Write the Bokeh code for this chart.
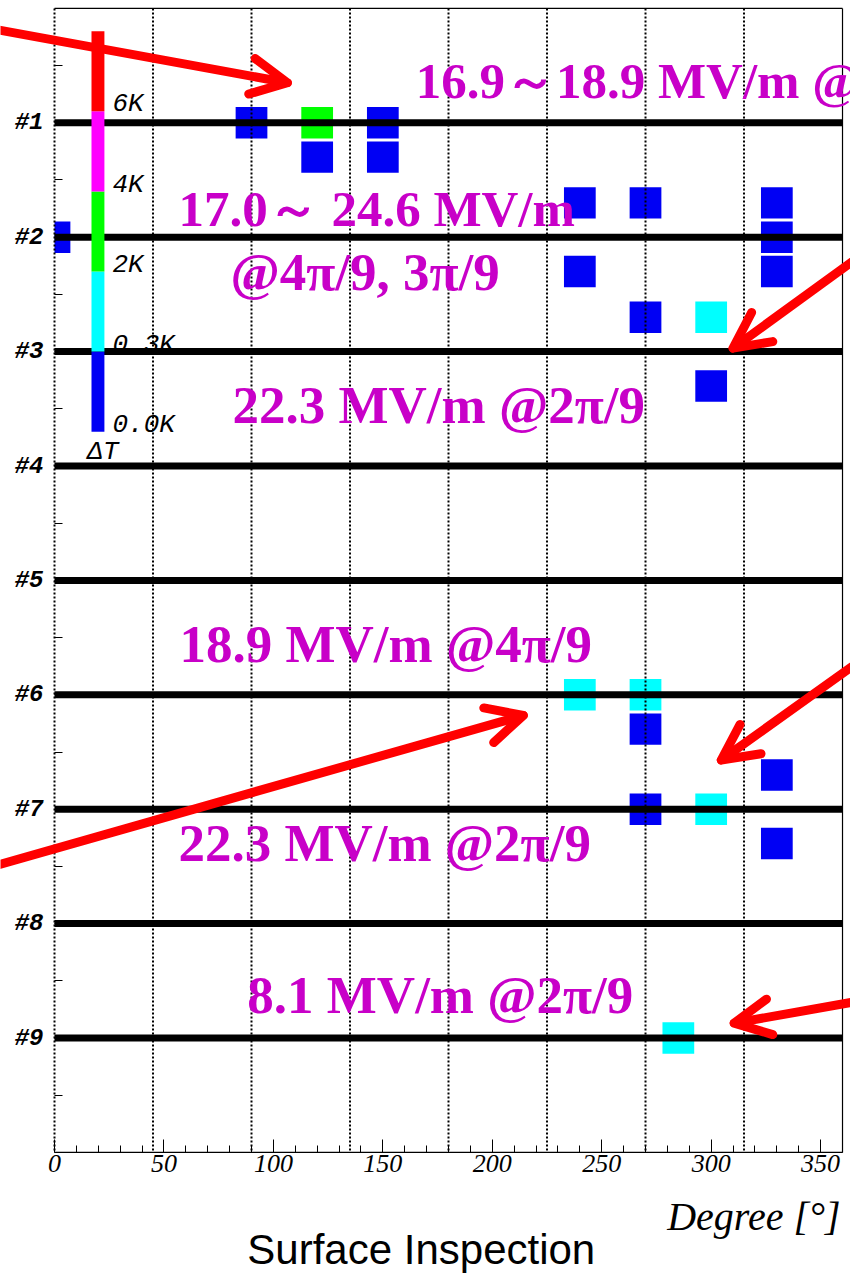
from bokeh.plotting import figure
from bokeh.models import Range1d, FixedTicker, ColumnDataSource, Label, Arrow, OpenHead
from bokeh.core.properties import value
from bokeh.embed import file_html
from bokeh.resources import INLINE

# ---------------- data ----------------
cells = [1, 2, 3, 4, 5, 6, 7, 8, 9]
cell_labels = ["#1", "#2", "#3", "#4", "#5", "#6", "#7", "#8", "#9"]
cell_minor = [0.5, 1.5, 2.5, 3.5, 4.5, 5.5, 6.5, 7.5, 8.5, 9.5]

deg_ticks = [0, 50, 100, 150, 200, 250, 300, 350]
deg_minor = list(range(0, 361, 10))
grid_deg = [0, 45, 90, 135, 180, 225, 270, 315]

# heated spots: angle [deg], position along cell axis, temperature rise [K]
spot_deg = [0, 90, 120, 120, 150, 150, 240, 240, 270, 270, 300, 300, 330, 330, 330,
            240, 270, 270, 330, 270, 300, 330, 285]
spot_pos = [2.0, 1.0, 1.0, 1.3, 1.0, 1.3, 1.7, 2.3, 1.7, 2.7, 2.7, 3.3, 1.7, 2.0, 2.3,
            6.0, 6.0, 6.3, 6.7, 7.0, 7.0, 7.3, 9.0]
spot_dT = [0.1, 0.1, 3.0, 0.1, 0.1, 0.1, 0.1, 0.1, 0.1, 0.1, 1.0, 0.1, 0.1, 0.1, 0.1,
           1.0, 1.0, 0.1, 0.1, 0.1, 1.0, 0.1, 1.0]

cbar_levels = [0.0, 0.3, 2.0, 4.0, 6.0]
cbar_labels = ["0.0K", "0.3K", "2K", "4K", "6K"]
cbar_colors = ["#0000f4", "#00ffff", "#00ff00", "#ff00ff", "#ff0000"]

note_text = ["16.9～18.9 MV/m @4π/9", "17.0～ 24.6 MV/m", "@4π/9, 3π/9",
             "22.3 MV/m @2π/9", "18.9 MV/m @4π/9", "22.3 MV/m @2π/9", "8.1 MV/m @2π/9"]
note_x = [165.0, 56.6, 80.4, 81.3, 57.1, 56.6, 88.1]
note_y = [0.635, 1.753, 2.300, 3.467, 5.560, 7.295, 8.620]
note_size = ["51px", "51px", "53px", "53px", "53px", "53px", "53px"]

arrow_x0 = [-33.8, 372.6, -33.8, 372.6, 372.6]
arrow_y0 = [0.16, 2.10, 7.53, 5.64, 8.66]
arrow_x1 = [106.4, 310.0, 214.2, 304.6, 310.5]
arrow_y1 = [0.65, 2.97, 6.18, 6.57, 8.87]


def color_of(t):
    c = cbar_colors[0]
    for lev, col in zip(cbar_levels, cbar_colors):
        if t >= lev:
            c = col
    return c


X_MIN, X_MAX = 0, 360
SPOT_W, SPOT_H = 14.5, 0.275

# ---------------- figure ----------------
# the frame fills the whole canvas; the axes sit at fixed data locations
p = figure(width=850, height=1278, x_range=Range1d(-24.67, 363.65), y_range=Range1d(11.102, -0.069),
           output_backend="svg", toolbar_location=None,
           min_border_left=0, min_border_right=0, min_border_top=0, min_border_bottom=0)
p.outline_line_color = None
p.grid.visible = False
p.background_fill_color = "white"
p.border_fill_color = "white"

# spots (clipped to the 0-360 degree window)
src = ColumnDataSource(dict(
    l=[max(X_MIN, d - SPOT_W / 2) for d in spot_deg],
    r=[min(X_MAX, d + SPOT_W / 2) for d in spot_deg],
    b=[y + SPOT_H / 2 for y in spot_pos],
    t=[y - SPOT_H / 2 for y in spot_pos],
    c=[color_of(t) for t in spot_dT]))
p.quad(left="l", right="r", bottom="b", top="t", fill_color="c", line_color=None, source=src)

# dotted angular grid
p.segment(x0=grid_deg, y0=[0] * len(grid_deg), x1=grid_deg, y1=[10] * len(grid_deg),
          line_color="black", line_width=2, line_dash="2 2")

# frame lines (top, right, bottom)
p.segment(x0=[0, 360, 0], y0=[0, 0, 10], x1=[360, 360, 360], y1=[0, 10, 10],
          line_color="black", line_width=1.2)

# colour bar
seg_h = 0.7
cb_bottom = 3.7
cb_b = [cb_bottom - seg_h * i for i in range(len(cbar_levels))]
cb_t = [b - seg_h for b in cb_b]
p.text(x=[26.5] * len(cbar_labels), y=[b - 0.06 for b in cb_b], text=cbar_labels,
       text_font=value("Liberation Mono"), text_font_style="italic", text_font_size="26px",
       text_color="black", text_baseline="middle", text_align="left")
p.text(x=[15.0], y=[3.88], text=["ΔT"], text_font=value("Liberation Mono"),
       text_font_style="italic", text_font_size="26px", text_color="black",
       text_baseline="middle", text_align="left")

# cell lines
p.segment(x0=[0] * len(cells), y0=cells, x1=[360] * len(cells), y1=cells,
          line_color="black", line_width=7)

p.quad(left=16.9, right=22.8, bottom=cb_b, top=cb_t, fill_color=cbar_colors, line_color=None)

# axes
xa = p.xaxis[0]
xa.fixed_location = 10
xa.ticker = FixedTicker(ticks=deg_ticks, minor_ticks=deg_minor)
xa.major_tick_in = 13
xa.major_tick_out = 0
xa.minor_tick_in = 7
xa.minor_tick_out = 0
xa.axis_line_color = None
xa.major_tick_line_color = "black"
xa.minor_tick_line_color = "black"
xa.major_label_text_font = "Liberation Serif"
xa.major_label_text_font_style = "italic"
xa.major_label_text_font_size = "26px"
xa.major_label_text_color = "black"
xa.major_label_standoff = 3

ya = p.yaxis[0]
ya.fixed_location = 0
ya.ticker = FixedTicker(ticks=cells, minor_ticks=cell_minor)
ya.major_label_overrides = {c: l for c, l in zip(cells, cell_labels)}
ya.axis_line_color = None
ya.major_tick_in = 8
ya.major_tick_out = 0
ya.minor_tick_in = 8
ya.minor_tick_out = 0
ya.major_label_text_font = "Liberation Mono"
ya.major_label_text_font_style = "bold italic"
ya.major_label_text_font_size = "24px"
ya.major_label_text_color = "black"
ya.major_label_standoff = 11

# annotations
for t, x, y, s in zip(note_text, note_x, note_y, note_size):
    p.add_layout(Label(x=x, y=y, text=t, text_font="Liberation Serif", text_font_style="bold",
                       text_font_size=s, text_color="#c800c8", text_baseline="middle",
                       text_align="left"))

asrc = ColumnDataSource(dict(x0=arrow_x0, y0=arrow_y0, x1=arrow_x1, y1=arrow_y1))
p.add_layout(Arrow(source=asrc, x_start="x0", y_start="y0", x_end="x1", y_end="y1",
                   line_color="#ff0000", line_width=9, line_cap="round",
                   end=OpenHead(size=36, line_color="#ff0000", line_width=9,
                                line_cap="round", line_join="round")))

p.add_layout(Label(x=359.1, y=10.556, text="Degree [°]", text_font="Liberation Serif",
                   text_font_style="italic", text_font_size="40px", text_color="black",
                   text_align="right", text_baseline="middle"))
p.add_layout(Label(x=88.1, y=10.85, text="Surface Inspection", text_font="Liberation Sans",
                   text_font_size="42px", text_color="black",
                   text_align="left", text_baseline="middle"))

open("out.html", "w").write(file_html(p, INLINE))
